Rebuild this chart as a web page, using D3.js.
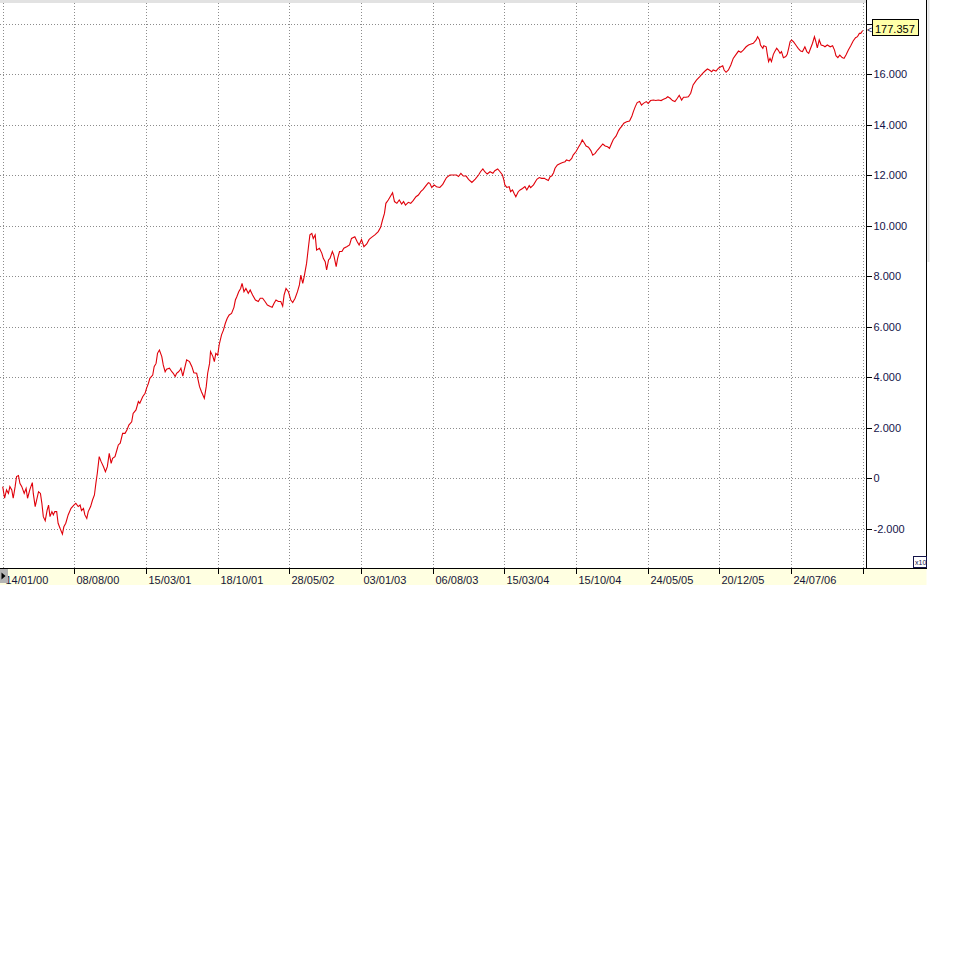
<!DOCTYPE html>
<html>
<head>
<meta charset="utf-8">
<script src="https://cdn.jsdelivr.net/npm/d3@7"></script>
<style>
  html, body { margin: 0; padding: 0; background: #ffffff; }
  svg { display: block; }
  text { font-family: "Liberation Sans", Arial, sans-serif; }
</style>
</head>
<body>
<svg id="chart" width="973" height="963"></svg>
<script>
// ---- Data: [trading day index, value] ----
const period2000 = [[0,-330],[4,-790],[8,-460],[12,-600],[15,-330],[19,-460],[22,-790],[26,-330],[29,70],[33,110],
[36,-200],[40,-330],[45,-600],[49,-400],[52,-790],[57,-440],[62,-170],[64,-600],[68,-1120],[71,-860],
[75,-530],[79,-600],[82,-990],[85,-1520],[89,-1680],[93,-1260],[96,-1060],[99,-1520],[103,-1320],[106,-1450],
[109,-1320],[113,-1320],[116,-1780],[120,-1980],[125,-2210],[128,-1920],[132,-1780],[137,-1450],[143,-1190],[149,-1060],
[153,-990],[158,-1120],[162,-1060],[165,-1280],[169,-1190],[172,-1450],[176,-1590],[179,-1320],[184,-1120],[188,-860],
[192,-660],[195,-200],[198,200],[202,860],[206,660],[211,460],[215,260],[219,460],[223,990],[227,590],
[230,790],[235,860],[239,1120],[242,1320],[246,1390],[251,1780],[256,1780],[260,1910],[264,2110],[270,2240],
[273,2570],[279,2710],[284,3040],[287,2970],[293,3230],[298,3370],[301,3560],[305,3760],[308,3960],[314,4090],
[317,4420],[321,4550],[324,4950],[328,5080],[333,4820],[336,4490],[340,4220],[343,4320],[349,4360],[354,4220],
[357,4160],[361,4030],[364,4160],[368,4220],[371,4290]];

const period2001 = [[373,4360],[377,4050],[380,4290],[385,4690],[391,4620],[396,4420],[400,4180],[406,4160],[412,3630],[416,3430],
[422,3170],[426,3630],[429,4160],[433,4550],[435,5020],[440,4820],[443,4620],[446,4950],[450,4880],[453,5280],
[458,5680],[462,5870],[466,6140],[470,6340],[474,6470],[479,6530],[484,6770],[487,7060],[490,7190],[494,7390],
[498,7520],[501,7720],[505,7390],[509,7520],[514,7330],[518,7460],[523,7260],[529,7060],[535,7000],[539,7130],
[544,7130],[549,7000],[554,6860],[560,6800],[564,6770],[568,6930],[572,7060],[577,7000],[582,7000],[586,6820],
[589,7260],[593,7520],[598,7390],[603,7060],[607,6960],[612,7130],[617,7390],[621,7660],[624,8050],[628,7720],
[631,7990],[636,8510],[640,9170],[643,9640],[647,9700],[650,9500],[654,9640],[657,9040],[663,9110],[668,8910],
[671,8710],[675,8580],[678,8250],[682,8650],[685,8710],[690,8980],[693,8840],[698,8380],[701,8710],[705,8980],
[710,8980],[714,9110],[720,9170],[726,9240]];

const period2003 = [[730,9500],[737,9570],[742,9370],[746,9240],[751,9460],[756,9170],[762,9280],[767,9460],[772,9540],[779,9640],
[786,9770],[791,9940],[795,10230],[799,10490],[802,10890],[807,11020],[811,11150],[816,11310],[820,10960],[825,10890],
[830,11020],[835,10860],[839,10960],[843,10820],[849,10930],[854,10890],[859,11000],[865,11150],[870,11220],[875,11350],
[880,11440],[886,11590],[891,11710],[894,11680],[898,11520],[903,11620],[908,11550],[915,11520],[921,11640],[926,11810],
[929,11910],[936,12010],[943,12010],[950,12010],[954,11950],[959,12080],[964,11970],[970,11970],[975,11840],[982,11720],
[989,11850],[996,12010],[1000,12140],[1005,12250],[1009,12140],[1014,12050],[1020,12140],[1026,12080],[1030,12180],[1036,12250],
[1041,12140],[1046,12010],[1049,11810],[1051,11620],[1055,11520],[1060,11550],[1063,11350],[1067,11420],[1071,11260],[1074,11150],
[1079,11350],[1083,11420]];

const period2004 = [[1088,11480],[1093,11550],[1097,11420],[1102,11590],[1105,11510],[1111,11620],[1118,11840],[1123,11910],[1128,11880],[1134,11880],
[1137,11840],[1142,11790],[1146,11950],[1149,11970],[1153,12100],[1156,12280],[1161,12410],[1167,12470],[1172,12510],[1177,12540],
[1180,12610],[1186,12570],[1191,12670],[1194,12800],[1200,12940],[1205,13110],[1210,13270],[1213,13400],[1217,13290],[1221,13160],
[1226,13110],[1231,12980],[1235,12800],[1240,12870],[1245,13000],[1250,13110],[1256,13240],[1261,13160],[1266,13130],[1270,13070],
[1275,13290],[1278,13420],[1284,13560],[1289,13770],[1292,13860],[1296,13950],[1300,14060],[1306,14120],[1312,14150],[1317,14350],
[1320,14520],[1324,14720],[1328,14880],[1333,14920],[1337,14780],[1341,14850],[1347,14920],[1351,14850],[1356,14960],[1362,14980],
[1367,14960],[1372,14980],[1378,14960],[1383,15010],[1388,15050],[1392,15110],[1397,15050],[1402,14960],[1407,14920],[1412,15050],
[1416,15170],[1421,14980],[1425,15090],[1430,15090],[1435,15110],[1440,15250]];

const period2006 = [[1445,15580],[1452,15770],[1459,15910],[1465,16040],[1470,16130],[1475,16210],[1479,16170],[1484,16100],[1487,16170],[1493,16130],
[1498,16240],[1503,16300],[1507,16340],[1510,16170],[1514,16080],[1519,16170],[1524,16370],[1529,16630],[1535,16790],[1540,16920],
[1545,16870],[1550,16960],[1556,17090],[1561,17160],[1565,17190],[1571,17230],[1577,17360],[1580,17490],[1584,17360],[1586,17160],
[1591,17030],[1593,17130],[1598,17090],[1600,16830],[1603,16500],[1606,16630],[1609,16500],[1613,16790],[1616,16900],[1620,17030],
[1623,16960],[1627,16830],[1630,16900],[1634,16660],[1639,16700],[1642,16790],[1645,17030],[1648,17290],[1651,17360],[1655,17290],
[1660,17160],[1665,17030],[1670,16920],[1674,16900],[1679,17090],[1683,16900],[1687,16830],[1691,17030],[1695,17230],[1699,17490],
[1702,17290],[1705,17050],[1709,17360],[1713,17160],[1718,17130],[1721,17090],[1726,17160],[1732,17090],[1737,17130],[1741,16960],
[1744,16740],[1748,16660],[1752,16760],[1757,16660],[1761,16630],[1765,16760],[1770,16960],[1775,17130],[1780,17320],[1785,17450],
[1789,17490],[1793,17620],[1796,17620],[1800,17736]];

const tickDays = [0,150,300,450,600,750,900,1050,1200,1350,1500,1650,1800];
const tickLabels = ["14/01/00","08/08/00","15/03/01","18/10/01","28/05/02","03/01/03","06/08/03","15/03/04","15/10/04","24/05/05","20/12/05","24/07/06",""];
const yTickValues = [-2000,0,2000,4000,6000,8000,10000,12000,14000,16000,18000];
const lastValueLabel = "177.357";
const scaleFactorLabel = "x10";

// ---- Layout ----
const svg = d3.select("#chart");
const plotL = 0, plotR = 866, plotT = 3, plotB = 568, panelR = 926.5, bandB = 585;

const x = d3.scaleLinear().domain([-5.65, 1806.9]).range([plotL, plotR]);
const y = d3.scaleLinear().domain([-2000, 18000]).range([528.8, 23.8]);

const data = [].concat(period2000, period2001, period2003, period2004, period2006);

const fmt = d3.formatLocale({decimal: ",", thousands: ".", grouping: [3], currency: ["", ""], minus: "-"}).format(",d");

// top grey band
svg.append("rect").attr("x", 0).attr("y", 0).attr("width", plotR).attr("height", plotT).attr("fill", "#e2e2e2");
// faint strip right of panel
svg.append("rect").attr("x", 927.5).attr("y", 0).attr("width", 2).attr("height", 262).attr("fill", "#e4e4e4");

// gridlines
const grid = svg.append("g").attr("stroke", "#8c8c8c").attr("stroke-width", 1).attr("stroke-dasharray", "1,2").attr("shape-rendering", "crispEdges");
grid.selectAll("line.h").data(yTickValues).join("line")
  .attr("x1", plotL).attr("x2", plotR)
  .attr("y1", d => Math.round(y(d)) + 0.5).attr("y2", d => Math.round(y(d)) + 0.5);
grid.selectAll("line.v").data(tickDays).join("line")
  .attr("x1", d => Math.round(x(d)) + 0.5).attr("x2", d => Math.round(x(d)) + 0.5)
  .attr("y1", plotT).attr("y2", plotB);

// clip for the line
svg.append("clipPath").attr("id", "plotClip").append("rect")
  .attr("x", plotL).attr("y", plotT).attr("width", plotR - plotL).attr("height", plotB - plotT);

svg.append("path").datum(data)
  .attr("clip-path", "url(#plotClip)")
  .attr("fill", "none").attr("stroke", "#e0000a").attr("stroke-width", 1.1)
  .attr("stroke-linejoin", "miter")
  .attr("d", d3.line().x(d => x(d[0])).y(d => y(d[1])));

// bottom yellow band
svg.append("rect").attr("x", 0).attr("y", plotB).attr("width", panelR).attr("height", bandB - plotB).attr("fill", "#ffffe1");

// x axis
svg.append("clipPath").attr("id", "bandClip").append("rect")
  .attr("x", 0).attr("y", plotB).attr("width", panelR).attr("height", bandB - plotB);
const xAxis = svg.append("g").attr("transform", `translate(0.5,${plotB + 0.5})`).attr("clip-path", "url(#bandClip)")
  .call(d3.axisBottom(x).tickValues(tickDays).tickSize(5).tickFormat((d, i) => tickLabels[i]))
  .attr("font-family", null).attr("font-size", null);
xAxis.select(".domain").remove();
xAxis.selectAll(".tick line").attr("stroke", "#000").attr("shape-rendering", "crispEdges");
xAxis.selectAll(".tick text")
  .attr("x", 2).attr("y", 15.5).attr("dy", null)
  .attr("text-anchor", "start")
  .attr("fill", "#14143c").style("font-size", "11px");
xAxis.attr("transform", null);
xAxis.selectAll(".tick").attr("transform", d => `translate(${Math.round(x(d)) + 0.5},${plotB + 0.5})`);

// bottom axis line
svg.append("line").attr("x1", 0).attr("x2", panelR).attr("y1", plotB + 0.5).attr("y2", plotB + 0.5)
  .attr("stroke", "#000").attr("shape-rendering", "crispEdges");

// left scroll button
svg.append("rect").attr("x", 0).attr("y", 569).attr("width", 8).attr("height", 14).attr("fill", "#b4b4b4");
svg.append("path").attr("d", "M1.5,572.5 L5.5,576 L1.5,579.5 Z").attr("fill", "#000");

// y axis
const yAxis = svg.append("g").attr("transform", `translate(${plotR + 0.5},0)`)
  .call(d3.axisRight(y).tickValues(yTickValues).tickSize(5).tickPadding(2).tickFormat(fmt))
  .attr("font-family", null).attr("font-size", null);
yAxis.select(".domain").remove();
yAxis.selectAll(".tick").attr("transform", d => `translate(0,${Math.round(y(d)) + 0.5})`);
yAxis.selectAll(".tick line").attr("stroke", "#000").attr("shape-rendering", "crispEdges");
yAxis.selectAll(".tick text").attr("fill", "#14144a").style("font-size", "11px");

// axis and panel borders
svg.append("line").attr("x1", plotR + 0.5).attr("x2", plotR + 0.5).attr("y1", 0).attr("y2", plotB)
  .attr("stroke", "#000").attr("shape-rendering", "crispEdges");
svg.append("line").attr("x1", panelR).attr("x2", panelR).attr("y1", 0).attr("y2", plotB)
  .attr("stroke", "#000").attr("shape-rendering", "crispEdges");

// last value label
const lastVal = data[data.length - 1][1];
const ly = Math.round(y(lastVal)) - 1;
svg.append("text").attr("x", 867).attr("y", ly + 4).attr("fill", "#14144a").style("font-size", "9px").text("<");
svg.append("rect").attr("x", 872.5).attr("y", ly - 9.5).attr("width", 46).attr("height", 16)
  .attr("fill", "#ffffa8").attr("stroke", "#000").attr("shape-rendering", "crispEdges");
svg.append("text").attr("x", 875).attr("y", ly + 3.5).attr("fill", "#000").style("font-size", "11px").text(lastValueLabel);

// scale factor box
svg.append("rect").attr("x", 913.5).attr("y", 556.5).attr("width", 13).attr("height", 11)
  .attr("fill", "#fff").attr("stroke", "#14144a").attr("shape-rendering", "crispEdges");
svg.append("text").attr("x", 915).attr("y", 565).attr("fill", "#14144a").style("font-size", "7px").text(scaleFactorLabel);
</script>
</body>
</html>
